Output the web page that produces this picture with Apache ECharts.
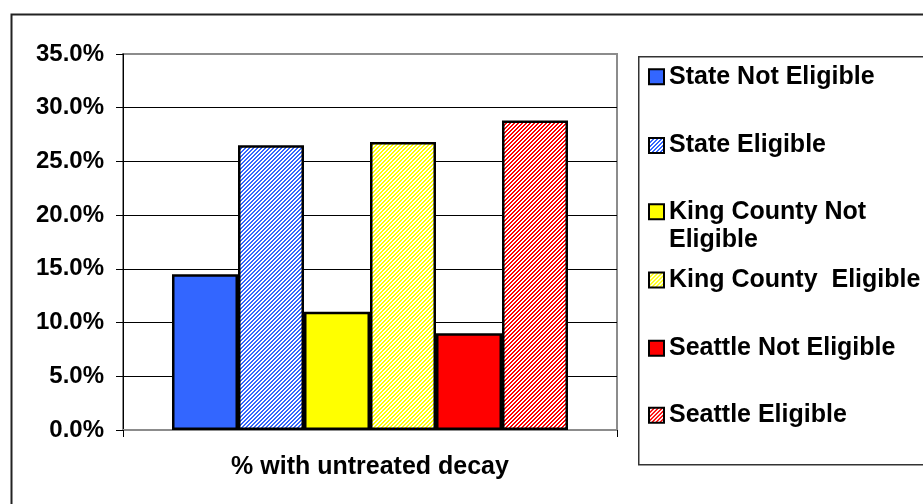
<!DOCTYPE html>
<html>
<head>
<meta charset="utf-8">
<script src="https://cdn.jsdelivr.net/npm/echarts@6/dist/echarts.min.js"></script>
<style>
  html, body { margin: 0; padding: 0; background: #ffffff; }
  #chart { width: 923px; height: 504px; }
</style>
</head>
<body>
<div id="chart"></div>
<script>
// Share of children with untreated decay, by area and eligibility
const categories = ['% with untreated decay'];
const seriesNames = [
  'State Not Eligible',
  'State Eligible',
  'King County Not\nEligible',
  'King County  Eligible',
  'Seattle Not Eligible',
  'Seattle Eligible'
];
const decayRates = [0.145, 0.265, 0.110, 0.268, 0.090, 0.288];
const yTicks = [0, 0.05, 0.10, 0.15, 0.20, 0.25, 0.30, 0.35];

const FONT = "'Liberation Sans', Arial, sans-serif";

// Fine diagonal hatch used for the "Eligible" bars
function hatch(color) {
  const c = document.createElement('canvas');
  c.width = 4; c.height = 4;
  const ctx = c.getContext('2d');
  ctx.fillStyle = '#ffffff';
  ctx.fillRect(0, 0, 4, 4);
  ctx.fillStyle = color;
  for (let y = 0; y < 4; y++) {
    for (let x = 0; x < 4; x++) {
      if ((x + y) % 4 < 2) ctx.fillRect(x, y, 1, 1);
    }
  }
  return { image: c, repeat: 'repeat' };
}

const fills = [
  '#3366FF', hatch('#3366FF'),
  '#FFFF00', hatch('#FFFF00'),
  '#FF0000', hatch('#FF0000')
];

// legend rows: icon centre y for each entry
const legendCentres = [76.7, 145.5, 211.7, 280, 348.3, 415.3];
const LH = 28;

// a wrapped entry gets a blank leading line so its first line sits level with the icon
const legends = seriesNames.map((name, i) => {
  const multi = name.indexOf('\n') >= 0;
  return {
    orient: 'vertical',
    left: 648,
    top: multi ? legendCentres[i] - 7.5 - 34.5 : legendCentres[i] - 14,
    padding: 0,
    itemWidth: 15,
    itemHeight: 15,
    icon: 'rect',
    selectedMode: false,
    itemStyle: { borderColor: '#000', borderWidth: 2 },
    formatter: n => (n.indexOf('\n') >= 0 ? ' \n' + n : n),
    textStyle: {
      fontFamily: FONT, fontWeight: 'bold', fontSize: 25,
      color: '#000', lineHeight: LH
    },
    data: [name]
  };
});

const chart = echarts.init(document.getElementById('chart'), null, { renderer: 'canvas' });

chart.setOption({
  backgroundColor: '#ffffff',
  animation: false,
  graphic: [
    { type: 'rect', left: 9, top: 12, z: -10,
      shape: { width: 960, height: 560 },
      style: { fill: 'none', stroke: '#222', lineWidth: 2 } },
    { type: 'rect', left: 638, top: 56, z: -10,
      shape: { width: 320, height: 408 },
      style: { fill: '#fff', stroke: '#333', lineWidth: 1.5 } }
  ],
  legend: legends,
  grid: {
    left: 123, right: 306, top: 54, bottom: 74,
    show: true, backgroundColor: '#ffffff',
    borderColor: '#8c8c8c', borderWidth: 2
  },
  xAxis: {
    type: 'category',
    data: categories,
    axisLine: { lineStyle: { color: '#8c8c8c', width: 2 } },
    axisTick: { show: true, length: 7, lineStyle: { color: '#000', width: 1 } },
    axisLabel: {
      margin: 25, fontFamily: FONT, fontWeight: 'bold', fontSize: 25,
      color: '#000', lineHeight: 25
    }
  },
  yAxis: {
    type: 'value',
    min: yTicks[0],
    max: yTicks[yTicks.length - 1],
    interval: 0.05,
    axisLine: { show: true, lineStyle: { color: '#000', width: 1 } },
    axisTick: { show: true, length: 7, lineStyle: { color: '#000', width: 1 } },
    splitLine: {
      show: true, showMinLine: false, showMaxLine: false,
      lineStyle: { color: '#000', width: 1 }
    },
    axisLabel: {
      margin: 19, fontFamily: FONT, fontWeight: 'bold', fontSize: 24, color: '#000',
      formatter: v => (v * 100).toFixed(1) + '%'
    }
  },
  series: seriesNames.map((name, i) => ({
    name: name,
    type: 'bar',
    barWidth: 66,
    barGap: '0%',
    data: [decayRates[i]],
    itemStyle: { color: fills[i], borderColor: '#000', borderWidth: 2.5 }
  }))
});
</script>
</body>
</html>
